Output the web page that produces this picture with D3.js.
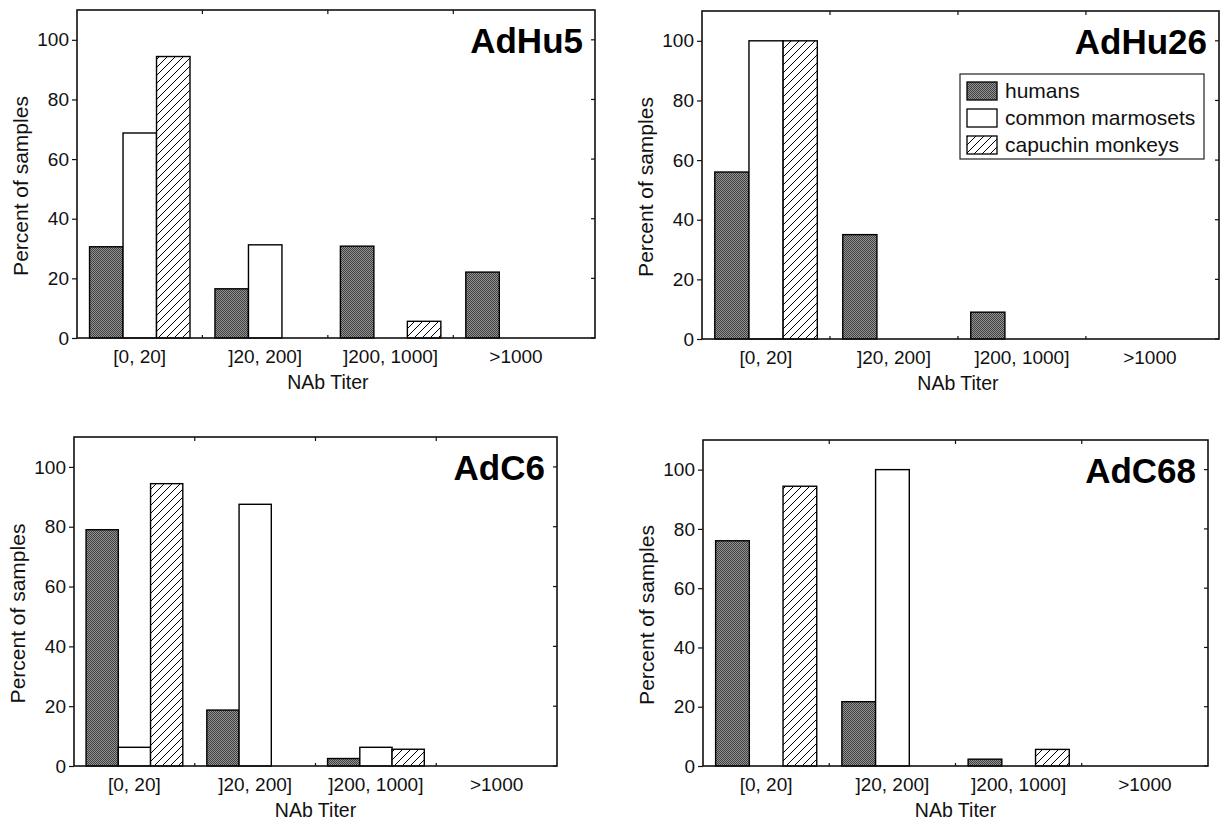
<!DOCTYPE html>
<html>
<head>
<meta charset="utf-8">
<script src="https://cdn.jsdelivr.net/npm/d3@7"></script>
<style>
  body { margin: 0; background: #fff; }
  svg { font-family: "Liberation Sans", Arial, sans-serif; }
</style>
</head>
<body>
<svg id="chart" width="1220" height="827"></svg>
<script>
// categories and series
const categories = ["[0, 20]", "]20, 200]", "]200, 1000]", ">1000"];
const seriesNames = ["humans", "common marmosets", "capuchin monkeys"];
const yTicks = [0, 20, 40, 60, 80, 100];

// percent of samples, one row per series (humans, marmosets, capuchins)
const adHu5 = [[30.6, 16.5, 30.8, 22.1], [68.75, 31.25, 0, 0], [94.4, 0, 5.6, 0]];
const adHu26 = [[56, 35, 9, 0], [100, 0, 0, 0], [100, 0, 0, 0]];
const adC6 = [[79, 18.7, 2.5, 0], [6.25, 87.5, 6.25, 0], [94.4, 0, 5.6, 0]];
const adC68 = [[76, 21.7, 2.3, 0], [0, 100, 0, 0], [94.4, 0, 5.6, 0]];

const titles = ["AdHu5", "AdHu26", "AdC6", "AdC68"];
const panelData = [adHu5, adHu26, adC6, adC68];

// panel frames (left, right, top, bottom) and how far the x axis runs
const frames = [
    { l: 77, r: 595, t: 10, b: 338, xmax: 4.63 },
    { l: 702, r: 1219, t: 11, b: 339, xmax: 4.54 },
    { l: 74, r: 557, t: 437, b: 766, xmax: 4.5 },
    { l: 703, r: 1208, t: 440, b: 766, xmax: 4.5 }
];

const svg = d3.select('#chart');
const defs = svg.append('defs');

// fine grey stipple for humans
const dots = defs.append('pattern')
    .attr('id', 'dots')
    .attr('patternUnits', 'userSpaceOnUse')
    .attr('width', 2).attr('height', 2);
dots.append('rect').attr('width', 2).attr('height', 2).attr('fill', '#939393');
dots.append('rect').attr('width', 1).attr('height', 1).attr('fill', '#404040');
dots.append('rect').attr('x', 1).attr('y', 1).attr('width', 1).attr('height', 1).attr('fill', '#404040');

// diagonal hatch for capuchins
const hatch = defs.append('pattern')
    .attr('id', 'hatch')
    .attr('patternUnits', 'userSpaceOnUse')
    .attr('width', 8).attr('height', 8);
hatch.append('rect').attr('width', 8).attr('height', 8).attr('fill', '#fff');
hatch.append('path')
    .attr('d', 'M0,8 L8,0 M-2,2 L2,-2 M6,10 L10,6')
    .attr('stroke', '#000').attr('stroke-width', 1);

const fills = ['url(#dots)', '#fff', 'url(#hatch)'];

panelData.forEach((rows, p) => {
    const f = frames[p];
    const g = svg.append('g');

    const x = d3.scaleLinear().domain([0.5, f.xmax]).range([f.l, f.r]);
    const y = d3.scaleLinear().domain([0, 110]).range([f.b, f.t]);

    const barW = 0.267;

    // bars
    rows.forEach((vals, s) => {
        g.selectAll(null)
            .data(vals.map((v, i) => ({ v, i })).filter(d => d.v > 0))
            .enter().append('rect')
            .attr('x', d => x(d.i + 1 - 0.4 + s * barW))
            .attr('width', x(barW) - x(0))
            .attr('y', d => y(d.v))
            .attr('height', d => y(0) - y(d.v))
            .attr('fill', fills[s])
            .attr('stroke', '#000')
            .attr('stroke-width', 1.4);
    });

    // frame
    g.append('rect')
        .attr('x', f.l).attr('y', f.t)
        .attr('width', f.r - f.l).attr('height', f.b - f.t)
        .attr('fill', 'none').attr('stroke', '#111').attr('stroke-width', 1.6);

    // left axis, ticks outward
    const left = d3.axisLeft(y).tickValues(yTicks).tickSize(5).tickPadding(3);
    const la = g.append('g').attr('transform', `translate(${f.l},0)`).call(left);
    la.select('.domain').remove();
    la.selectAll('line').attr('stroke', '#111').attr('stroke-width', 1.2);
    la.selectAll('text').attr('font-size', 19).attr('fill', '#111');

    // right ticks, inward
    g.selectAll(null).data(yTicks).enter().append('line')
        .attr('x1', f.r).attr('x2', f.r - 4)
        .attr('y1', d => y(d)).attr('y2', d => y(d))
        .attr('stroke', '#111').attr('stroke-width', 1.2);

    // category boundaries: top ticks and short bottom ticks, inward
    const bounds = [1.5, 2.5, 3.5];
    g.selectAll(null).data(bounds).enter().append('line')
        .attr('x1', d => x(d)).attr('x2', d => x(d))
        .attr('y1', f.t).attr('y2', f.t + 4)
        .attr('stroke', '#111').attr('stroke-width', 1.2);
    g.selectAll(null).data(bounds).enter().append('line')
        .attr('x1', d => x(d)).attr('x2', d => x(d))
        .attr('y1', f.b).attr('y2', f.b - 3)
        .attr('stroke', '#111').attr('stroke-width', 1.2);

    // category labels
    g.selectAll(null).data(categories).enter().append('text')
        .attr('x', (d, i) => x(i + 1))
        .attr('y', f.b + 25)
        .attr('text-anchor', 'middle')
        .attr('font-size', 19)
        .attr('fill', '#111')
        .text(d => d);

    // axis titles
    g.append('text')
        .attr('x', (f.l + Math.min(f.r, x(4.5))) / 2)
        .attr('y', f.b + 51)
        .attr('text-anchor', 'middle')
        .attr('font-size', 19.5)
        .attr('fill', '#111')
        .text('NAb Titer');

    const ymid = (f.t + f.b) / 2 + 12;
    g.append('text')
        .attr('transform', `translate(${f.l - 49},${ymid}) rotate(-90)`)
        .attr('text-anchor', 'middle')
        .attr('font-size', 21)
        .attr('fill', '#111')
        .text('Percent of samples');

    // panel title
    g.append('text')
        .attr('x', f.r - 12)
        .attr('y', f.t + 43)
        .attr('text-anchor', 'end')
        .attr('font-size', 35)
        .attr('font-weight', 'bold')
        .attr('fill', '#000')
        .text(titles[p]);
});

// legend inside AdHu26 panel
const leg = svg.append('g');
leg.append('rect')
    .attr('x', 960).attr('y', 74).attr('width', 244).attr('height', 85)
    .attr('fill', '#fff').attr('stroke', '#222').attr('stroke-width', 1.2);
seriesNames.forEach((name, i) => {
    const cy = 91 + i * 27;
    leg.append('rect')
        .attr('x', 967).attr('y', cy - 9).attr('width', 30).attr('height', 18)
        .attr('fill', fills[i]).attr('stroke', '#000').attr('stroke-width', 1.3);
    leg.append('text')
        .attr('x', 1005).attr('y', cy + 7)
        .attr('font-size', 21)
        .attr('fill', '#111')
        .text(name);
});
</script>
</body>
</html>
